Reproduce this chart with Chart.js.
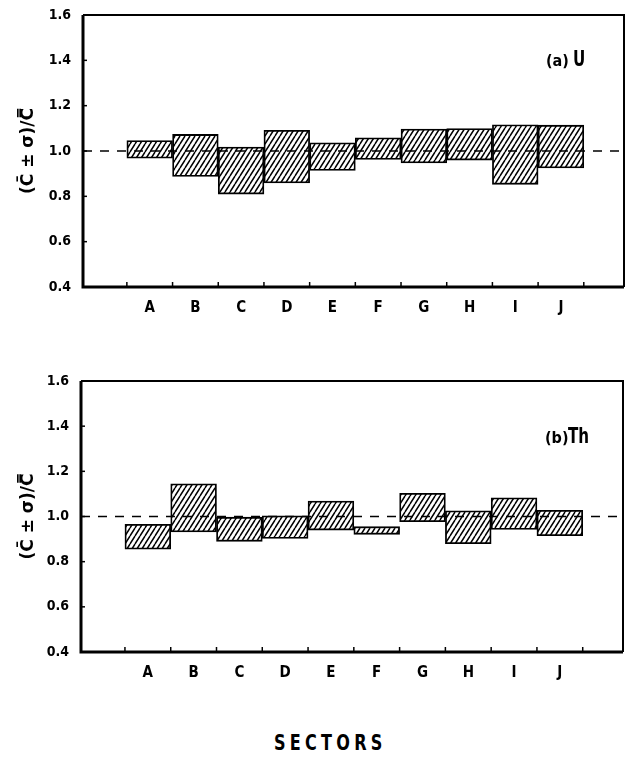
<!DOCTYPE html>
<html>
<head>
<meta charset="utf-8">
<script src="https://cdn.jsdelivr.net/npm/chart.js@4.4.1/dist/chart.umd.min.js"></script>
<style>
body{margin:0;background:#fff;width:626px;height:758px;position:relative;overflow:hidden;font-family:'DejaVu Sans Condensed','Liberation Sans',Arial,sans-serif;color:#000}
.box{position:absolute;left:0;width:626px}
#box1{top:0;height:320px}
#box2{top:360px;height:325px}
.tag{position:absolute;white-space:nowrap}
.tag .p{font-size:16px;font-weight:bold}
.tag .e{font-size:21px;font-weight:bold;display:inline-block;transform:scaleX(0.8);transform-origin:left center}
#xtitle{position:absolute;left:274px;top:731px;font-weight:bold;font-size:21px;letter-spacing:5px;white-space:nowrap;transform:scaleX(0.85);transform-origin:left center}
</style>
</head>
<body>
<div class="box" id="box1"><canvas id="c1"></canvas></div>
<div class="box" id="box2"><canvas id="c2"></canvas></div>
<div class="tag" style="left:546px;top:47px"><span class="p">(a)</span> <span class="e">U</span></div>
<div class="tag" style="left:545px;top:424px"><span class="p">(b)</span><span class="e">Th</span></div>
<div id="xtitle">SECTORS</div>
<script>
// data
var sectors = ['A', 'B', 'C', 'D', 'E', 'F', 'G', 'H', 'I', 'J'];
var uLow   = [0.968, 0.888, 0.810, 0.859, 0.914, 0.963, 0.947, 0.960, 0.853, 0.925];
var uHigh  = [1.046, 1.073, 1.017, 1.091, 1.036, 1.058, 1.097, 1.099, 1.116, 1.114];
var thLow  = [0.855, 0.932, 0.890, 0.903, 0.940, 0.921, 0.977, 0.880, 0.943, 0.915];
var thHigh = [0.965, 1.145, 0.997, 1.003, 1.068, 0.955, 1.103, 1.025, 1.083, 1.027];
var yTicks = [0.4, 0.6, 0.8, 1.0, 1.2, 1.4, 1.6];
var refLevel = 1.0;
var xMin = -0.96, xMax = 10.88;

var tickFont = 'DejaVu Sans Condensed';

function hatch() {
    var w = 5, h = 8;
    var c = document.createElement('canvas');
    c.width = w; c.height = h;
    var g = c.getContext('2d');
    g.fillStyle = '#fff';
    g.fillRect(0, 0, w, h);
    g.strokeStyle = '#000';
    g.lineWidth = 1.5;
    g.beginPath();
    for (var k = -1; k <= 1; k++) {
        g.moveTo(k * w, h);
        g.lineTo(k * w + w, 0);
    }
    g.stroke();
    return g.createPattern(c, 'repeat');
}

var framePlugin = {
    id: 'frame',
    afterDraw: function(chart) {
        var a = chart.chartArea, ctx = chart.ctx;
        var xs = chart.scales.x, ys = chart.scales.y;
        ctx.save();
        ctx.strokeStyle = '#000';
        ctx.lineWidth = 1.5;
        for (var i = 0; i <= sectors.length; i++) {
            var px = xs.getPixelForValue(i);
            ctx.beginPath(); ctx.moveTo(px, a.bottom); ctx.lineTo(px, a.bottom - 5); ctx.stroke();
        }
        yTicks.forEach(function(v) {
            var py = ys.getPixelForValue(v);
            ctx.beginPath(); ctx.moveTo(a.left, py); ctx.lineTo(a.left + 4, py); ctx.stroke();
        });
        ctx.lineWidth = 2;
        ctx.beginPath();
        ctx.moveTo(a.left, a.top); ctx.lineTo(a.right, a.top); ctx.lineTo(a.right, a.bottom);
        ctx.stroke();
        ctx.lineWidth = 3;
        ctx.beginPath();
        ctx.moveTo(a.left, a.top); ctx.lineTo(a.left, a.bottom); ctx.lineTo(a.right, a.bottom);
        ctx.stroke();
        ctx.restore();
    }
};

function makeChart(id, low, high, lay) {
    var bars = sectors.map(function(s, i) {
        return { x: i + 0.5, y: [low[i], high[i]] };
    });
    return new Chart(document.getElementById(id), {
        type: 'bar',
        data: {
            datasets: [{
                type: 'line',
                data: [{ x: xMin, y: refLevel }, { x: xMax, y: refLevel }],
                borderColor: '#000',
                borderWidth: 1.5,
                borderDash: [9, 8],
                pointRadius: 0,
                order: 0
            }, {
                data: bars,
                backgroundColor: hatch(),
                borderColor: '#000',
                borderWidth: 1.8,
                borderSkipped: false,
                barPercentage: 1,
                categoryPercentage: 1,
                order: 1
            }]
        },
        options: {
            responsive: true,
            maintainAspectRatio: false,
            animation: false,
            layout: { padding: { top: lay.top, bottom: lay.bottom, left: 0, right: lay.right } },
            plugins: { legend: { display: false }, tooltip: { enabled: false } },
            scales: {
                x: {
                    type: 'linear',
                    offset: false,
                    min: xMin,
                    max: xMax,
                    grid: { display: false, offset: false },
                    border: { display: false },
                    afterBuildTicks: function(scale) {
                        scale.ticks = sectors.map(function(s, i) { return { value: i + 0.5 }; });
                    },
                    afterFit: function(scale) { scale.height = 30; },
                    ticks: {
                        autoSkip: false,
                        maxRotation: 0,
                        padding: 4,
                        color: '#000',
                        font: { family: tickFont, size: 15, weight: 'bold' },
                        callback: function(v) { return sectors[Math.floor(v)]; }
                    }
                },
                y: {
                    min: 0.4,
                    max: 1.6,
                    grid: { display: false },
                    border: { display: false },
                    afterBuildTicks: function(scale) {
                        scale.ticks = yTicks.map(function(v) { return { value: v }; });
                    },
                    afterFit: function(scale) { scale.width = lay.left; },
                    ticks: {
                        padding: 4,
                        color: '#000',
                        font: { family: tickFont, size: 14, weight: 'bold' },
                        callback: function(v) { return v.toFixed(1); }
                    },
                    title: {
                        display: true,
                        text: '(C\u0304 \u00b1 \u03c3)/C\u033f',
                        color: '#000',
                        padding: { top: 18, bottom: 0 },
                        font: { family: 'DejaVu Sans', size: 17, weight: 'bold' }
                    }
                }
            }
        },
        plugins: [framePlugin]
    });
}

makeChart('c1', uLow, uHigh, { top: 15, bottom: 3, left: 83, right: 2 });
makeChart('c2', thLow, thHigh, { top: 21, bottom: 3, left: 81, right: 3 });
</script>
</body>
</html>
